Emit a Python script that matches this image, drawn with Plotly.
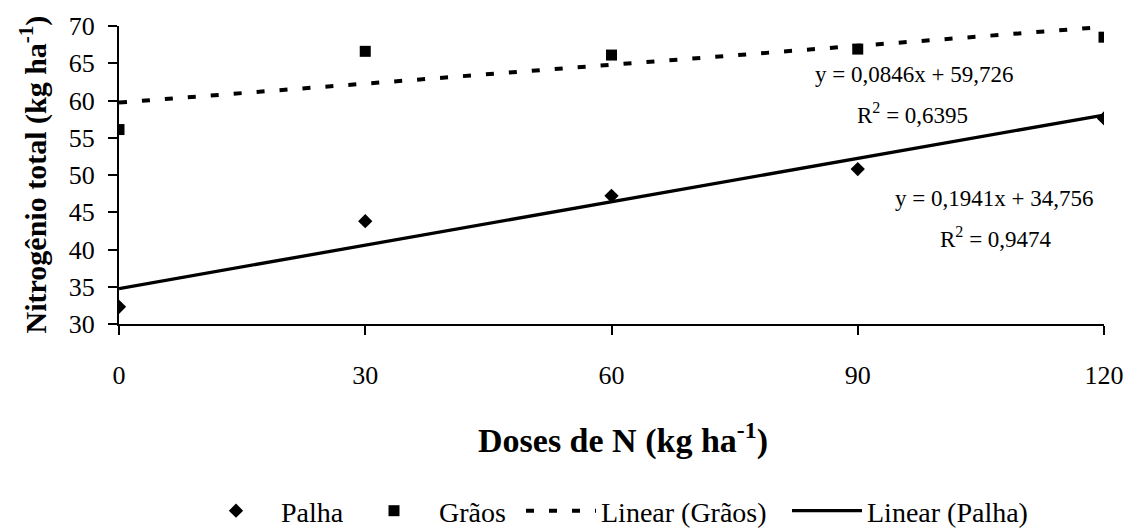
import numpy as np
import plotly.graph_objects as go

# Nitrogen doses (kg/ha)
doses = [0, 30, 60, 90, 120]
# Total nitrogen (kg/ha) in straw and grain
palha = [32.3, 43.8, 47.2, 50.8, 57.6]
graos = [56.1, 66.6, 66.1, 66.9, 68.5]

# Linear trendline coefficients
graos_slope, graos_icpt = 0.0846, 59.726
palha_slope, palha_icpt = 0.1941, 34.756

x_tick_vals = [0, 30, 60, 90, 120]
y_tick_vals = [30, 35, 40, 45, 50, 55, 60, 65, 70]

FONT = "Liberation Serif, Times New Roman, serif"
W, H = 1136, 529
L, R, T, B = 119, 27, 24, 205
PW, PH = W - L - R, H - T - B


def px_to_paper(px, py):
    """Convert page pixel position to plot-area paper coordinates."""
    return (px - L) / PW, 1 - (py - T) / PH


x_line = np.array([0, 120])

fig = go.Figure()
fig.add_trace(go.Scatter(
    x=doses, y=palha, mode="markers", name="Palha", legend="legend",
    marker=dict(symbol="diamond", size=11, color="black"),
))
fig.add_trace(go.Scatter(
    x=doses, y=graos, mode="markers", name="Grãos", legend="legend2",
    marker=dict(symbol="square", size=11, color="black"),
))
fig.add_trace(go.Scatter(
    x=x_line, y=graos_slope * x_line + graos_icpt, mode="lines",
    name="Linear (Grãos)", legend="legend3",
    line=dict(color="black", width=4, dash="8px,15px"),
))
fig.add_trace(go.Scatter(
    x=x_line, y=palha_slope * x_line + palha_icpt, mode="lines",
    name="Linear (Palha)", legend="legend4",
    line=dict(color="black", width=3.3),
))

# Regression equations
eq_font = dict(family=FONT, size=23, color="black")
equations = [
    (918, 73, "y = 0,0846x + 59,726"),
    (917, 112, "R<sup>2</sup> = 0,6395"),
    (998, 198, "y = 0,1941x + 34,756"),
    (1000, 237, "R<sup>2</sup> = 0,9474"),
]
for px, py, txt in equations:
    ax, ay = px_to_paper(px, py)
    fig.add_annotation(
        x=ax, y=ay, xref="paper", yref="paper",
        text=txt, showarrow=False, font=eq_font,
        xanchor="center", yanchor="middle",
    )

# Axis titles
tx, ty = px_to_paper(626, 439)
fig.add_annotation(
    x=tx, y=ty, xref="paper", yref="paper",
    xanchor="center", yanchor="middle", showarrow=False,
    text="<b>Doses de N (kg ha<sup>-1</sup>)</b>",
    font=dict(family=FONT, size=34, color="black"),
)
tx, ty = px_to_paper(33, 173)
fig.add_annotation(
    x=tx, y=ty, xref="paper", yref="paper",
    xanchor="center", yanchor="middle", showarrow=False, textangle=-90,
    text="<b>Nitrogênio total (kg ha<sup>-1</sup>)</b>",
    font=dict(family=FONT, size=30, color="black"),
)


def legend_box(left_px, item_w):
    return dict(
        orientation="h", xref="container", yref="container",
        x=left_px / W, y=1 - 511 / H, xanchor="left", yanchor="middle",
        font=dict(family=FONT, size=28, color="black"),
        itemwidth=item_w, bgcolor="rgba(0,0,0,0)", borderwidth=0,
    )


fig.update_layout(
    width=W, height=H,
    margin=dict(l=L, r=R, t=T, b=B),
    plot_bgcolor="white", paper_bgcolor="white",
    font=dict(family=FONT, size=26, color="black"),
    showlegend=True,
    legend=legend_box(191, 80),
    legend2=legend_box(349, 80),
    legend3=legend_box(521, 70),
    legend4=legend_box(787, 70),
)

fig.update_xaxes(
    range=[0, 120], tickvals=x_tick_vals, ticks="outside", ticklen=9,
    tickwidth=2, tickcolor="black", showline=True, linecolor="black",
    linewidth=2, showgrid=False, zeroline=False, ticklabelstandoff=18,
    tickfont=dict(family=FONT, size=26, color="black"),
)
fig.update_yaxes(
    range=[30, 70], tickvals=y_tick_vals, ticks="outside", ticklen=9,
    tickwidth=2, tickcolor="black", showline=True, linecolor="black",
    linewidth=2, showgrid=False, zeroline=False, ticklabelstandoff=8,
    tickfont=dict(family=FONT, size=26, color="black"),
)

fig.write_html("out.html")
